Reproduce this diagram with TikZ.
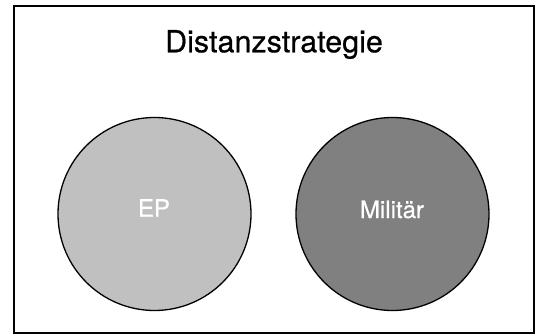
\documentclass[tikz,border=0pt]{standalone}
\usepackage{fontspec}
\setmainfont[FakeBold=0.6]{TeX Gyre Heros}
\usepackage{tikz,xcolor}
\definecolor{epgray}{HTML}{C0C0C0}
\definecolor{milgray}{HTML}{808080}
\begin{document}
\begin{tikzpicture}[x=1pt,y=-1pt, every circle node/.style={draw,line width=1.3pt,minimum size=193pt,inner sep=0pt}, label text/.style={text=white,font=\fontsize{24}{28}\selectfont}]
\useasboundingbox (0,0) rectangle (536,336);
\node(frame)[draw,line width=2pt,minimum width=520pt,minimum height=327pt,inner sep=0pt] at (274,170) {};
\node(title) at (274,44.5) {\fontsize{30.5}{34}\selectfont Distanzstrategie};
\node(ep)[circle,fill=epgray] at (154.5,214) {};
\node(mil)[circle,fill=milgray] at (392.5,214) {};
\node(eplabel)[label text] at (154,208) {EP};
\node(millabel)[label text] at (392,209.5) {Militär};
\end{tikzpicture}
\end{document}
